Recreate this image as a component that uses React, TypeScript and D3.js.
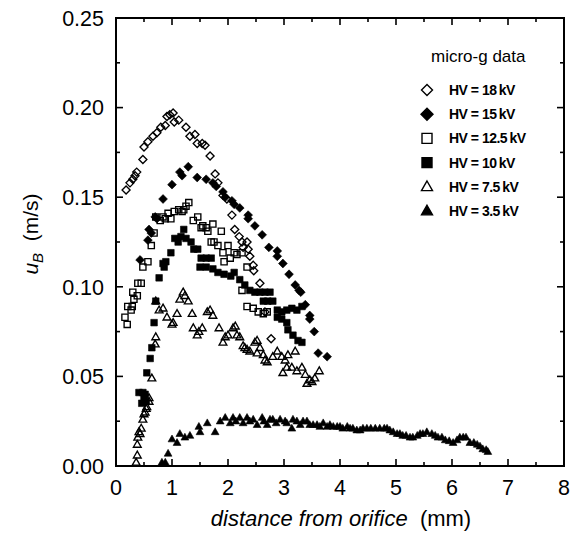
import * as d3 from 'd3';

// [distance (mm), u_B (m/s)]
const hv18: [number, number][] = [
  [0.18, 0.154], [0.25, 0.158], [0.30, 0.160], [0.34, 0.162], [0.37, 0.164], [0.48, 0.171],
  [0.50, 0.178], [0.57, 0.181], [0.66, 0.184], [0.73, 0.186], [0.80, 0.189], [0.88, 0.190],
  [0.91, 0.195], [0.96, 0.196], [1.02, 0.197], [1.04, 0.192], [1.12, 0.193], [1.25, 0.189],
  [1.32, 0.184], [1.41, 0.185], [1.45, 0.180], [1.54, 0.180], [1.59, 0.179], [1.68, 0.173],
  [1.77, 0.163], [1.82, 0.158], [1.91, 0.151], [1.98, 0.149], [2.07, 0.140], [2.12, 0.132],
  [2.20, 0.128], [2.25, 0.125], [2.34, 0.125], [2.27, 0.122], [2.36, 0.121], [2.39, 0.117],
  [2.45, 0.112], [2.46, 0.109], [2.57, 0.102], [2.66, 0.086], [2.77, 0.071],
];

const hv15: [number, number][] = [
  [0.43, 0.115], [0.57, 0.126], [0.59, 0.132], [0.63, 0.130], [0.70, 0.139], [0.73, 0.138],
  [0.84, 0.149], [1.00, 0.157], [1.14, 0.164], [1.18, 0.162], [1.29, 0.167], [1.45, 0.161],
  [1.61, 0.160], [1.73, 0.158], [1.79, 0.156], [1.91, 0.153], [1.95, 0.150], [2.07, 0.148],
  [2.11, 0.146], [2.21, 0.144], [2.36, 0.140], [2.36, 0.138], [2.48, 0.134], [2.61, 0.129],
  [2.73, 0.122], [2.88, 0.120], [2.88, 0.117], [2.98, 0.113], [3.09, 0.107], [3.20, 0.101],
  [3.27, 0.098], [3.30, 0.097], [3.38, 0.090], [3.46, 0.084], [3.46, 0.082], [3.54, 0.075],
  [3.61, 0.063], [3.77, 0.061],
];

const hv125: [number, number][] = [
  [0.16, 0.083], [0.20, 0.079], [0.21, 0.089], [0.27, 0.087], [0.29, 0.089], [0.32, 0.093],
  [0.30, 0.097], [0.38, 0.095], [0.39, 0.102], [0.45, 0.102], [0.48, 0.111], [0.57, 0.114],
  [0.63, 0.123], [0.68, 0.130], [0.71, 0.139], [0.79, 0.137], [0.84, 0.139], [0.88, 0.138],
  [0.93, 0.141], [0.98, 0.138], [1.04, 0.142], [1.12, 0.143], [1.18, 0.142], [1.21, 0.143],
  [1.25, 0.145], [1.30, 0.147], [1.38, 0.137], [1.46, 0.139], [1.52, 0.133], [1.55, 0.134],
  [1.61, 0.133], [1.64, 0.131], [1.73, 0.135], [1.70, 0.125], [1.75, 0.125], [1.82, 0.123],
  [1.88, 0.131], [1.91, 0.119], [1.93, 0.114], [2.00, 0.123], [2.04, 0.116], [2.11, 0.119],
  [2.16, 0.118], [2.25, 0.119], [2.25, 0.098], [2.34, 0.111], [2.34, 0.089], [2.45, 0.088],
  [2.54, 0.086], [2.63, 0.085], [2.70, 0.086],
];

const hv10: [number, number][] = [
  [0.41, 0.041], [0.46, 0.035], [0.48, 0.041], [0.50, 0.038], [0.52, 0.040], [0.54, 0.036],
  [0.55, 0.052], [0.61, 0.060], [0.64, 0.066], [0.68, 0.080], [0.71, 0.092], [0.77, 0.105],
  [0.84, 0.113], [0.86, 0.111], [0.89, 0.114], [0.98, 0.119], [1.05, 0.127], [1.11, 0.125],
  [1.16, 0.128], [1.21, 0.132], [1.25, 0.127], [1.34, 0.125], [1.39, 0.121], [1.46, 0.121],
  [1.52, 0.116], [1.61, 0.116], [1.70, 0.116], [1.50, 0.111], [1.61, 0.111], [1.73, 0.110],
  [1.82, 0.108], [1.93, 0.107], [2.05, 0.106], [2.11, 0.108], [2.21, 0.104], [2.30, 0.101],
  [2.39, 0.098], [2.48, 0.097], [2.57, 0.097], [2.66, 0.097], [2.75, 0.097], [2.63, 0.092],
  [2.71, 0.092], [2.80, 0.092], [2.88, 0.087], [2.96, 0.086], [3.05, 0.087], [3.14, 0.088],
  [3.23, 0.087], [3.32, 0.089], [2.88, 0.083], [2.96, 0.082], [3.05, 0.080], [3.07, 0.076],
  [3.16, 0.073], [3.25, 0.070], [3.32, 0.069],
];

const hv75: [number, number][] = [
  [0.36, 0.002], [0.38, 0.006], [0.38, 0.012], [0.39, 0.016], [0.41, 0.019], [0.43, 0.018],
  [0.45, 0.021], [0.48, 0.026], [0.50, 0.029], [0.52, 0.030], [0.54, 0.032], [0.55, 0.033],
  [0.59, 0.036], [0.59, 0.038], [0.64, 0.049], [0.70, 0.068], [0.71, 0.072], [0.71, 0.092],
  [0.77, 0.087], [0.84, 0.088], [0.91, 0.083], [1.00, 0.079], [1.02, 0.080], [1.09, 0.085],
  [1.14, 0.093], [1.20, 0.097], [1.23, 0.095], [1.29, 0.092], [1.36, 0.085], [1.38, 0.077],
  [1.45, 0.073], [1.48, 0.075], [1.54, 0.077], [1.63, 0.086], [1.68, 0.087], [1.73, 0.084],
  [1.84, 0.077], [1.91, 0.069], [1.95, 0.072], [2.00, 0.073], [2.09, 0.077], [2.13, 0.078],
  [2.16, 0.073], [2.21, 0.072], [2.27, 0.067], [2.30, 0.066], [2.34, 0.065], [2.39, 0.064],
  [2.48, 0.069], [2.52, 0.070], [2.52, 0.063], [2.57, 0.066], [2.63, 0.062], [2.66, 0.059],
  [2.70, 0.058], [2.80, 0.061], [2.88, 0.064], [2.96, 0.061], [2.98, 0.052], [3.02, 0.059],
  [3.05, 0.055], [3.07, 0.062], [3.14, 0.055], [3.20, 0.064], [3.23, 0.053], [3.32, 0.055],
  [3.38, 0.051], [3.41, 0.046], [3.46, 0.048], [3.50, 0.047], [3.55, 0.049], [3.63, 0.053],
];

const hv35: [number, number][] = [
  [0.82, 0.002], [0.88, 0.002], [0.93, 0.007], [1.00, 0.015], [1.09, 0.013], [1.14, 0.018],
  [1.23, 0.016], [1.32, 0.017], [1.48, 0.022], [1.50, 0.019], [1.63, 0.024], [1.77, 0.019],
  [1.86, 0.025], [1.95, 0.027], [2.04, 0.024], [2.09, 0.027], [2.14, 0.025], [2.21, 0.027],
  [2.27, 0.024], [2.34, 0.027], [2.39, 0.025], [2.45, 0.026], [2.52, 0.023], [2.61, 0.027],
  [2.64, 0.025], [2.70, 0.023], [2.75, 0.026], [2.80, 0.026], [2.86, 0.024], [2.93, 0.026],
  [3.02, 0.025], [3.05, 0.024], [3.14, 0.021], [3.16, 0.026], [3.23, 0.025], [3.29, 0.023],
  [3.34, 0.025], [3.41, 0.025], [3.46, 0.023], [3.52, 0.023], [3.59, 0.023], [3.64, 0.022],
  [3.70, 0.024], [3.77, 0.022], [3.82, 0.023], [3.88, 0.022], [3.95, 0.022], [4.00, 0.022],
  [4.05, 0.021], [4.13, 0.022], [4.18, 0.021], [4.23, 0.021], [4.30, 0.020], [4.36, 0.020],
  [4.41, 0.021], [4.48, 0.021], [4.55, 0.021], [4.63, 0.021], [4.71, 0.021], [4.79, 0.021],
  [4.84, 0.021], [4.89, 0.020], [4.95, 0.019], [5.02, 0.018], [5.07, 0.018], [5.12, 0.017],
  [5.18, 0.017], [5.25, 0.016], [5.30, 0.016], [5.38, 0.017], [5.43, 0.018], [5.48, 0.018],
  [5.55, 0.019], [5.64, 0.018], [5.70, 0.017], [5.75, 0.016], [5.82, 0.016], [5.88, 0.0145],
  [5.95, 0.014], [6.02, 0.013], [6.09, 0.0145], [6.14, 0.016], [6.20, 0.016], [6.25, 0.016],
  [6.32, 0.013], [6.39, 0.013], [6.45, 0.012], [6.50, 0.011], [6.55, 0.0095], [6.61, 0.009],
  [6.64, 0.008],
];

const legendLabels = ['HV = 18\u2009kV', 'HV = 15\u2009kV', 'HV = 12.5\u2009kV', 'HV = 10\u2009kV', 'HV = 7.5\u2009kV', 'HV = 3.5\u2009kV'];
const xTicks = [0, 1, 2, 3, 4, 5, 6, 7, 8];
const yTicks = [0, 0.05, 0.1, 0.15, 0.2, 0.25];

type Shape = 'diamond' | 'square' | 'triangle';

function shapePath(shape: Shape, r: number) {
  if (shape === 'diamond') return `M0,${-r}L${r},0L0,${r}L${-r},0Z`;
  if (shape === 'square') return `M${-r},${-r}H${r}V${r}H${-r}Z`;
  const h = r * 1.75;
  return `M0,${-h * 0.6}L${r},${h * 0.4}L${-r},${h * 0.4}Z`;
}

const series: { data: [number, number][]; shape: Shape; filled: boolean; r: number; lr: number }[] = [
  { data: hv18, shape: 'diamond', filled: false, r: 4, lr: 5.5 },
  { data: hv15, shape: 'diamond', filled: true, r: 4.4, lr: 6 },
  { data: hv125, shape: 'square', filled: false, r: 3.1, lr: 5 },
  { data: hv10, shape: 'square', filled: true, r: 3.3, lr: 5 },
  { data: hv75, shape: 'triangle', filled: false, r: 3.9, lr: 5.5 },
  { data: hv35, shape: 'triangle', filled: true, r: 3.9, lr: 5.5 },
];

const W = 570;
const H = 534;
const left = 116, right = 564, top = 18, bottom = 466;
const font = 'Arial, "Liberation Sans", Helvetica, sans-serif';

export default function App() {
  const x = d3.scaleLinear().domain([0, 8]).range([left, right]);
  const y = d3.scaleLinear().domain([0, 0.25]).range([bottom, top]);
  const xMinor = d3.range(0.5, 8, 1);
  const yMinor = d3.range(0.025, 0.25, 0.05);
  const major = 7;
  const minor = 4;

  return (
    <svg width={W} height={H} style={{ position: 'absolute', left: 0, top: 0, background: '#fff' }} fontFamily={font}>
      <rect x={0} y={0} width={W} height={H} fill="#fff" />
      {/* ticks, inward on all four sides */}
      <g stroke="#000" strokeWidth={1.6}>
        {xTicks.map(t => (
          <g key={'xt' + t}>
            <line x1={x(t)} x2={x(t)} y1={bottom} y2={bottom - major} />
            <line x1={x(t)} x2={x(t)} y1={top} y2={top + major} />
          </g>
        ))}
        {xMinor.map(t => (
          <g key={'xm' + t}>
            <line x1={x(t)} x2={x(t)} y1={bottom} y2={bottom - minor} />
            <line x1={x(t)} x2={x(t)} y1={top} y2={top + minor} />
          </g>
        ))}
        {yTicks.map(t => (
          <g key={'yt' + t}>
            <line x1={left} x2={left + major} y1={y(t)} y2={y(t)} />
            <line x1={right} x2={right - major} y1={y(t)} y2={y(t)} />
          </g>
        ))}
        {yMinor.map(t => (
          <g key={'ym' + t}>
            <line x1={left} x2={left + minor} y1={y(t)} y2={y(t)} />
            <line x1={right} x2={right - minor} y1={y(t)} y2={y(t)} />
          </g>
        ))}
      </g>
      <rect x={left} y={top} width={right - left} height={bottom - top} fill="none" stroke="#000" strokeWidth={2} />

      {/* data */}
      {series.map((s, i) => (
        <g key={'s' + i}>
          {s.data.map((d, j) => (
            <path
              key={j}
              transform={`translate(${x(d[0])},${y(d[1])})`}
              d={shapePath(s.shape, s.r)}
              fill={s.filled ? '#000' : 'none'}
              stroke="#000"
              strokeWidth={s.filled ? 0.6 : 1.35}
            />
          ))}
        </g>
      ))}

      {/* tick labels */}
      {xTicks.map(t => (
        <text key={'xl' + t} x={x(t)} y={495} textAnchor="middle" fontSize={21.5}>{t}</text>
      ))}
      {yTicks.map(t => (
        <text key={'yl' + t} x={104} y={y(t)} dy="0.36em" textAnchor="end" fontSize={21.5}>{d3.format('.2f')(t)}</text>
      ))}

      {/* axis titles */}
      <text x={(left + right) / 2 + 1} y={526} textAnchor="middle" fontSize={22}>
        <tspan fontStyle="italic">distance from orifice</tspan>
        <tspan>{'\u00a0 (mm)'}</tspan>
      </text>
      <text transform={`translate(38,234) rotate(-90)`} textAnchor="middle" fontSize={21}>
        <tspan fontStyle="italic">u</tspan>
        <tspan fontStyle="italic" fontSize={15} dy={5}>B</tspan>
        <tspan dy={-5}>{'\u00a0 (m/s)'}</tspan>
      </text>

      {/* legend */}
      <text x={431} y={62} fontSize={17}>micro-g data</text>
      {series.map((s, i) => {
        const ly = 90 + i * 24.2;
        return (
          <g key={'lg' + i}>
            <path
              transform={`translate(427,${ly})`}
              d={shapePath(s.shape, s.lr)}
              fill={s.filled ? '#000' : '#fff'}
              stroke="#000"
              strokeWidth={1.4}
            />
            <text x={449} y={ly + 5} fontSize={14} fontWeight="bold" letterSpacing={-0.5}>{legendLabels[i]}</text>
          </g>
        );
      })}
    </svg>
  );
}
